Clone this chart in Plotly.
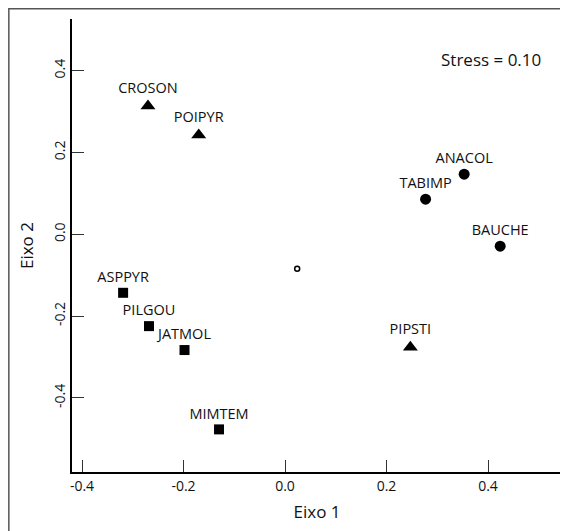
import plotly.graph_objects as go

# Species scores (NMDS)
circle_names = ["ANACOL", "TABIMP", "BAUCHE"]
circle_x = [0.353, 0.277, 0.424]
circle_y = [0.147, 0.086, -0.029]

triangle_names = ["CROSON", "POIPYR", "PIPSTI"]
triangle_x = [-0.270, -0.170, 0.247]
triangle_y = [0.314, 0.243, -0.276]

square_names = ["ASPPYR", "PILGOU", "JATMOL", "MIMTEM"]
square_x = [-0.319, -0.268, -0.198, -0.130]
square_y = [-0.143, -0.2245, -0.283, -0.477]

centroid_x = [0.024]
centroid_y = [-0.084]

x_ticks = [-0.4, -0.2, 0.0, 0.2, 0.4]
x_tick_labels = ["-0.4", "-0.2", "0.0", "0.2", "0.4"]
y_ticks = [-0.4, -0.2, 0.0, 0.2, 0.4]
y_tick_labels = ["-0.4", "-0.2", "0.0", "0.2", "0.4"]

stress_text = "Stress = 0.10"

FONT = "Open Sans"
X_RANGE = [-0.4197, 0.5458]
Y_RANGE = [-0.5812, 0.5265]

fig = go.Figure()

label_font = dict(family=FONT, size=14.5, color="#111")

fig.add_trace(go.Scatter(
    x=circle_x, y=circle_y, text=circle_names, mode="markers+text",
    textposition="top center", textfont=label_font,
    marker=dict(symbol="circle", size=11, color="black"),
    showlegend=False, cliponaxis=False))
fig.add_trace(go.Scatter(
    x=triangle_x, y=triangle_y, text=triangle_names, mode="markers+text",
    textposition="top center", textfont=label_font,
    marker=dict(symbol="triangle-up", size=13, color="black"),
    showlegend=False, cliponaxis=False))
fig.add_trace(go.Scatter(
    x=square_x, y=square_y, text=square_names, mode="markers+text",
    textposition="top center", textfont=label_font,
    marker=dict(symbol="square", size=10, color="black"),
    showlegend=False, cliponaxis=False))
fig.add_trace(go.Scatter(
    x=centroid_x, y=centroid_y, mode="markers",
    marker=dict(symbol="circle", size=5, color="white",
                line=dict(color="black", width=1.5)),
    showlegend=False))

fig.add_annotation(x=0.405, y=0.427, xref="x", yref="y", text=stress_text,
                   showarrow=False, font=dict(family=FONT, size=17, color="#111"))

# outer frame (top and left edges visible)
fig.add_shape(type="path", xref="paper", yref="paper",
              path="M -0.1289,-0.3 L -0.1289,1.0225 L 1.2,1.0225",
              line=dict(color="#555", width=1.5))

fig.update_xaxes(
    range=X_RANGE, showgrid=False, zeroline=False,
    showline=True, linecolor="black", linewidth=1.5,
    ticks="inside", ticklen=12, tickwidth=1, tickcolor="#333",
    tickvals=x_ticks + [X_RANGE[1] - 0.0008],
    ticktext=x_tick_labels + [""],
    tickfont=dict(family=FONT, size=14, color="#111"),
    title=dict(text="Eixo 1", font=dict(family=FONT, size=17, color="#111"), standoff=13),
)
fig.update_yaxes(
    range=Y_RANGE, showgrid=False, zeroline=False,
    showline=True, linecolor="black", linewidth=1.5,
    ticks="inside", ticklen=12, tickwidth=1, tickcolor="#333",
    tickvals=y_ticks + [Y_RANGE[1] - 0.0008],
    ticktext=y_tick_labels + [""],
    tickangle=-90,
    tickfont=dict(family=FONT, size=14, color="#111"),
    title=dict(text="Eixo 2", font=dict(family=FONT, size=17, color="#111"), standoff=12),
)

# page adds an 8px body margin, so the figure is 8px smaller than the window
fig.update_layout(
    width=560, height=523,
    margin=dict(l=64, r=6, t=11, b=59, autoexpand=False),
    paper_bgcolor="white", plot_bgcolor="white",
    font=dict(family=FONT, color="#111"),
)

fig.write_html("out.html")
